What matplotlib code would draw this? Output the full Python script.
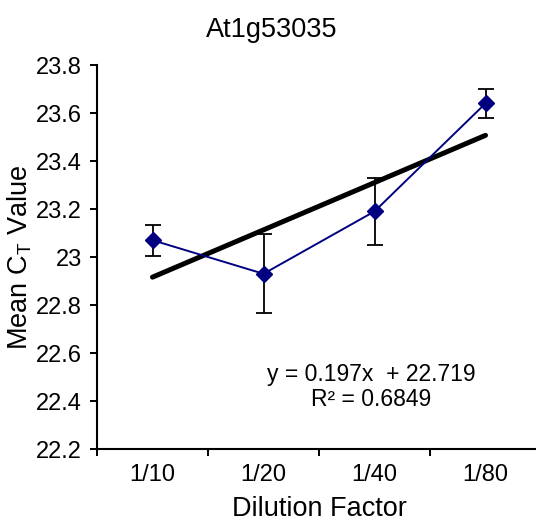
import matplotlib
matplotlib.use("Agg")
import matplotlib.pyplot as plt
import numpy as np

plt.rcParams['font.family'] = ['Liberation Sans', 'DejaVu Sans']

# data
dilutions = ['1/10', '1/20', '1/40', '1/80']
mean_ct = [23.07, 22.93, 23.19, 23.64]
ct_err = [0.065, 0.165, 0.14, 0.06]
slope = 0.197
intercept = 22.719
r_squared = 0.6849

x = np.arange(1, len(dilutions) + 1)

fig = plt.figure(figsize=(5.36, 5.31), dpi=100)
ax = fig.add_axes([97 / 536, 82 / 531, 444 / 536, 384 / 531])

# linear trend line (Excel style)
ax.plot(x, slope * x + intercept, color='black', lw=3.6, solid_capstyle='round', zorder=2)

# error bars + series
ax.errorbar(x, mean_ct, yerr=ct_err, fmt='none', ecolor='black', elinewidth=1.3,
            capsize=6, capthick=1.3, zorder=3)
ax.plot(x, mean_ct, color='#000080', lw=1.4, marker='D', markersize=8.5, zorder=4)

ax.set_xlim(0.5, 4.5)
ax.set_ylim(22.2, 23.8)
ax.set_yticks(np.arange(22.2, 23.81, 0.2))
ax.set_yticklabels(['22.2', '22.4', '22.6', '22.8', '23', '23.2', '23.4', '23.6', '23.8'])
ax.set_xticks(x)
ax.set_xticklabels(dilutions)
ax.set_xticks(np.arange(0.5, 4.6, 1.0), minor=True)
ax.tick_params(axis='x', which='major', length=0, pad=11, labelsize=17)
ax.tick_params(axis='x', which='minor', length=5, width=1.4, direction='out')
ax.tick_params(axis='y', length=5, width=1.4, direction='out', pad=6, labelsize=17)

for side in ['top', 'right']:
    ax.spines[side].set_visible(False)
for side in ['left', 'bottom']:
    ax.spines[side].set_linewidth(1.5)

ax.set_xlabel('Dilution Factor', fontsize=19.5, labelpad=7)
ax.set_ylabel('Mean C$_\\mathregular{T}$ Value', fontsize=19.5, labelpad=1)

fig.text(0.507, 0.943, 'At1g53035', ha='center', va='center', fontsize=19.5)

ax.text(2.97, 22.46, f'y = {slope}x  + {intercept}\nR\u00b2 = {r_squared}', ha='center', va='center',
        fontsize=16.5, linespacing=1.1)

fig.savefig('out.png', dpi=100)
